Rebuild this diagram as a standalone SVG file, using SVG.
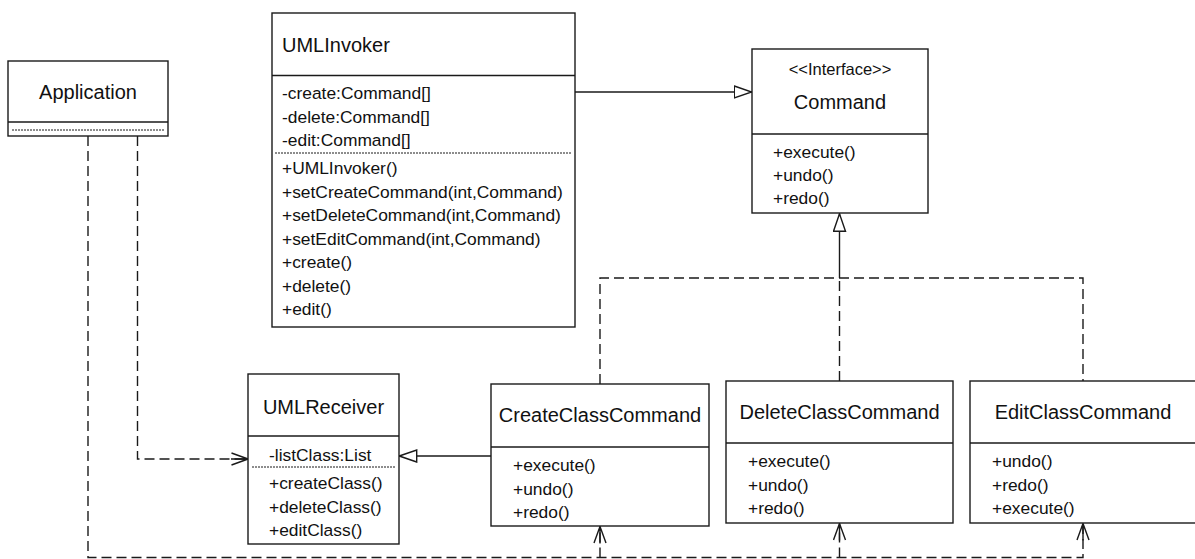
<svg xmlns="http://www.w3.org/2000/svg" width="1195" height="559" viewBox="0 0 1195 559">
  <style>
    .box { fill: #ffffff; stroke: #1a1a1a; stroke-width: 1.4; }
    .sep { stroke: #1a1a1a; stroke-width: 1.4; fill: none; }
    .dot { stroke: #1a1a1a; stroke-width: 1; stroke-dasharray: 2 1; fill: none; }
    .title { font-family: "Liberation Sans", Arial, sans-serif; font-size: 20px; fill: #111111; }
    .stereo { font-family: "Liberation Sans", Arial, sans-serif; font-size: 16.5px; fill: #111111; }
    .member { font-family: "Liberation Sans", Arial, sans-serif; font-size: 17.4px; fill: #111111; }
    .mid { text-anchor: middle; }
    .solid { stroke: #1a1a1a; stroke-width: 1.4; fill: none; }
    .dash { stroke: #1a1a1a; stroke-width: 1.4; fill: none; stroke-dasharray: 10 5; }
  </style>
  <defs>
    <!-- hollow triangle: generalization / realization -->
    <marker id="tri" viewBox="0 0 19 14" refX="18.5" refY="7" markerWidth="19" markerHeight="14" markerUnits="userSpaceOnUse" orient="auto">
      <path d="M0.8,1 L18.2,7 L0.8,13 Z" fill="#ffffff" stroke="#1a1a1a" stroke-width="1.4" stroke-dasharray="none"/>
    </marker>
    <!-- open arrowhead: dependency -->
    <marker id="open" viewBox="0 0 18 14" refX="17" refY="7" markerWidth="18" markerHeight="14" markerUnits="userSpaceOnUse" orient="auto">
      <path d="M0.5,1 L17,7 L0.5,13 M0,7 L17,7" fill="none" stroke="#1a1a1a" stroke-width="1.4" stroke-dasharray="none"/>
    </marker>
  </defs>

  <rect width="1195" height="559" fill="#ffffff"/>

  <!-- connectors -->
  <g id="connectors">
    <!-- UMLInvoker holds Commands -->
    <path class="solid" d="M575,92 H752" marker-end="url(#tri)"/>
    <!-- concrete commands realize Command -->
    <path class="dash" d="M600,384 V278 H1083 V381"/>
    <path class="dash" d="M839.5,381 V278"/>
    <path class="solid" d="M839.5,278 V213.5" marker-end="url(#tri)"/>
    <!-- CreateClassCommand to UMLReceiver -->
    <path class="solid" d="M491,456 H399" marker-end="url(#tri)"/>
    <!-- Application uses UMLReceiver -->
    <path class="dash" d="M137.5,136 V459 H248" marker-end="url(#open)"/>
    <!-- Application creates the commands -->
    <path class="dash" d="M88,136 V557.5 H1083 V523.5" marker-end="url(#open)"/>
    <path class="dash" d="M600,557.5 V526.5" marker-end="url(#open)"/>
    <path class="dash" d="M839.5,557.5 V523.5" marker-end="url(#open)"/>
  </g>

  <g id="Application">
    <rect class="box" x="8" y="61" width="160" height="75"/>
    <line class="sep" x1="8" y1="122" x2="168" y2="122"/>
    <line class="dot" x1="12" y1="130" x2="164" y2="130"/>
    <text class="title mid" x="88" y="99">Application</text>
  </g>

  <g id="UMLInvoker">
    <rect class="box" x="272" y="13" width="303" height="314"/>
    <line class="sep" x1="272" y1="75.5" x2="575" y2="75.5"/>
    <line class="dot" x1="275" y1="153" x2="572" y2="153"/>
    <text class="title" x="282" y="52">UMLInvoker</text>
    <text class="member" x="282" y="99">-create:Command[]</text>
    <text class="member" x="282" y="122.5">-delete:Command[]</text>
    <text class="member" x="282" y="146">-edit:Command[]</text>
    <text class="member" x="282" y="174">+UMLInvoker()</text>
    <text class="member" x="282" y="197.5">+setCreateCommand(int,Command)</text>
    <text class="member" x="282" y="221">+setDeleteCommand(int,Command)</text>
    <text class="member" x="282" y="244.5">+setEditCommand(int,Command)</text>
    <text class="member" x="282" y="268">+create()</text>
    <text class="member" x="282" y="291.5">+delete()</text>
    <text class="member" x="282" y="315">+edit()</text>
  </g>

  <g id="Command">
    <rect class="box" x="752" y="49" width="176" height="164"/>
    <line class="sep" x1="752" y1="134" x2="928" y2="134"/>
    <text class="stereo mid" x="840" y="75">&lt;&lt;Interface&gt;&gt;</text>
    <text class="title mid" x="840" y="109">Command</text>
    <text class="member" x="773" y="158">+execute()</text>
    <text class="member" x="773" y="181">+undo()</text>
    <text class="member" x="773" y="204">+redo()</text>
  </g>

  <g id="UMLReceiver">
    <rect class="box" x="248" y="374" width="151" height="170"/>
    <line class="sep" x1="248" y1="436" x2="399" y2="436"/>
    <line class="dot" x1="252" y1="467" x2="395" y2="467"/>
    <text class="title mid" x="323.5" y="413.5">UMLReceiver</text>
    <text class="member" x="269" y="461">-listClass:List</text>
    <text class="member" x="269" y="489">+createClass()</text>
    <text class="member" x="269" y="512.5">+deleteClass()</text>
    <text class="member" x="269" y="536">+editClass()</text>
  </g>

  <g id="CreateClassCommand">
    <rect class="box" x="491" y="384" width="218" height="142"/>
    <line class="sep" x1="491" y1="447" x2="709" y2="447"/>
    <text class="title mid" x="600" y="422">CreateClassCommand</text>
    <text class="member" x="513" y="471">+execute()</text>
    <text class="member" x="513" y="494.5">+undo()</text>
    <text class="member" x="513" y="518">+redo()</text>
  </g>

  <g id="DeleteClassCommand">
    <rect class="box" x="726" y="381" width="227" height="142"/>
    <line class="sep" x1="726" y1="443" x2="953" y2="443"/>
    <text class="title mid" x="839.5" y="419">DeleteClassCommand</text>
    <text class="member" x="748" y="467">+execute()</text>
    <text class="member" x="748" y="490.5">+undo()</text>
    <text class="member" x="748" y="514">+redo()</text>
  </g>

  <g id="EditClassCommand">
    <rect class="box" x="970" y="381" width="227" height="142"/>
    <line class="sep" x1="970" y1="443" x2="1197" y2="443"/>
    <text class="title mid" x="1083" y="419">EditClassCommand</text>
    <text class="member" x="992" y="467">+undo()</text>
    <text class="member" x="992" y="490.5">+redo()</text>
    <text class="member" x="992" y="514">+execute()</text>
  </g>
</svg>
